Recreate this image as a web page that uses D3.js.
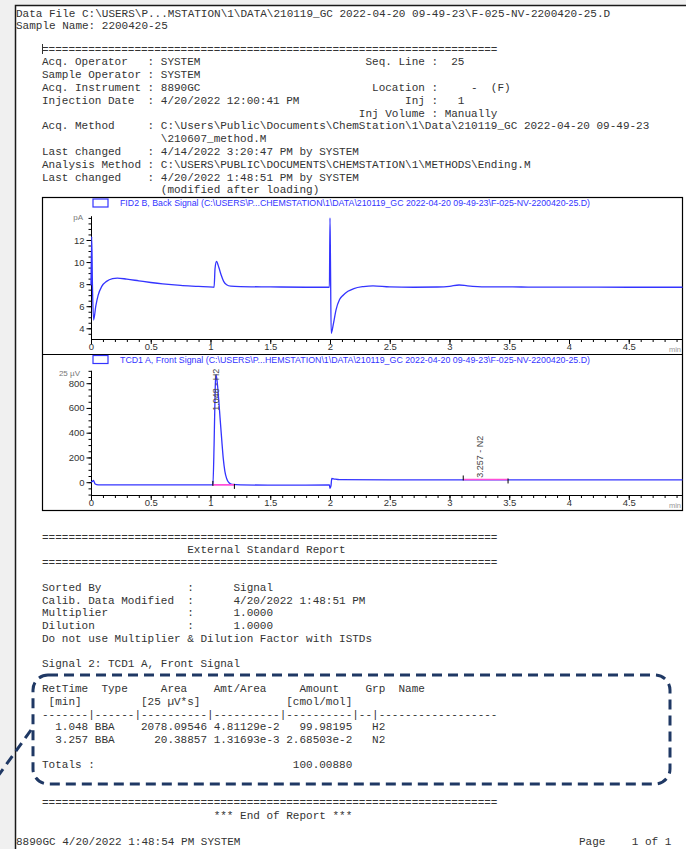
<!DOCTYPE html>
<html><head><meta charset="utf-8">
<script src="https://cdn.jsdelivr.net/npm/d3@7"></script>
<style>body{margin:0;background:#f0f0f0;overflow:hidden}svg{display:block}</style>
</head><body>
<svg id="c" width="686" height="849"></svg>
<script>
// ---------------- DATA ----------------
const fidTime   = [0.000,0.006,0.012,0.022,0.04,0.06,0.09,0.13,0.18,0.22,0.30,0.40,0.50,0.60,0.75,0.90,1.02,1.030,1.038,1.050,1.07,1.09,1.11,1.135,1.17,1.25,1.50,1.80,1.995,2.000,2.004,2.010,2.03,2.05,2.08,2.11,2.15,2.20,2.28,2.36,2.50,2.70,2.90,3.00,3.08,3.15,3.30,3.60,4.00,4.50,4.96];
const fidSignal = [7.9,12.3,8.0,4.75,6.0,7.0,7.8,8.25,8.5,8.55,8.45,8.3,8.15,8.02,7.88,7.8,7.73,7.72,9.4,10.05,9.5,8.8,8.25,7.95,7.82,7.78,7.75,7.72,7.72,14.0,10.0,3.55,4.5,5.65,6.6,7.0,7.35,7.6,7.78,7.85,7.75,7.72,7.74,7.8,7.92,7.85,7.76,7.74,7.73,7.72,7.72];

const tcdTime   = [0.000,0.010,0.020,0.035,0.06,0.50,1.00,1.020,1.030,1.040,1.046,1.055,1.070,1.080,1.095,1.107,1.120,1.135,1.155,1.18,1.25,1.60,1.995,2.000,2.008,2.015,2.04,2.08,2.50,3.00,4.00,4.96];
const tcdSignal = [0,5,15,-15,-22,-22,-22,-20,300,780,870,820,650,520,330,190,90,30,-5,-18,-22,-24,-22,-50,-30,30,25,20,19,19,19,19];

const xTickValues   = [0,0.5,1,1.5,2,2.5,3,3.5,4,4.5];
const fidTickValues = [4,6,8,10,12];
const tcdTickValues = [0,200,400,600,800];

const peakRT    = [1.048, 3.257];
const peakName  = ["H2", "N2"];
const peakStart = [1.02, 3.115];
const peakEnd   = [1.20, 3.49];
const peakBase  = [-22, 22];
const labelBase = [578, 35];

const fidLegend = "FID2 B, Back Signal (C:\\USERS\\P...CHEMSTATION\\1\\DATA\\210119_GC 2022-04-20 09-49-23\\F-025-NV-2200420-25.D)";
const tcdLegend = "TCD1 A, Front Signal (C:\\USERS\\P...HEMSTATION\\1\\DATA\\210119_GC 2022-04-20 09-49-23\\F-025-NV-2200420-25.D)";

const EQ = "=====================================================================";
const topLines = [
  "Data File C:\\USERS\\P...MSTATION\\1\\DATA\\210119_GC 2022-04-20 09-49-23\\F-025-NV-2200420-25.D",
  "Sample Name: 2200420-25"
];
const headerLines = [
  EQ,
  "Acq. Operator   : SYSTEM                         Seq. Line :  25",
  "Sample Operator : SYSTEM",
  "Acq. Instrument : 8890GC                          Location :     -  (F)",
  "Injection Date  : 4/20/2022 12:00:41 PM                Inj :   1",
  "                                                Inj Volume : Manually",
  "Acq. Method     : C:\\Users\\Public\\Documents\\ChemStation\\1\\Data\\210119_GC 2022-04-20 09-49-23",
  "                  \\210607_method.M",
  "Last changed    : 4/14/2022 3:20:47 PM by SYSTEM",
  "Analysis Method : C:\\USERS\\PUBLIC\\DOCUMENTS\\CHEMSTATION\\1\\METHODS\\Ending.M",
  "Last changed    : 4/20/2022 1:48:51 PM by SYSTEM",
  "                  (modified after loading)"
];
const reportLines = [
  EQ,
  "                      External Standard Report",
  EQ,
  "",
  "Sorted By             :      Signal",
  "Calib. Data Modified  :      4/20/2022 1:48:51 PM",
  "Multiplier            :      1.0000",
  "Dilution              :      1.0000",
  "Do not use Multiplier & Dilution Factor with ISTDs",
  "",
  "Signal 2: TCD1 A, Front Signal",
  "",
  "RetTime  Type     Area    Amt/Area     Amount    Grp  Name",
  " [min]         [25 \u00b5V*s]             [cmol/mol]",
  "-------|------|----------|----------|----------|--|------------------",
  "  1.048 BBA    2078.09546 4.81129e-2   99.98195   H2",
  "  3.257 BBA      20.38857 1.31693e-3 2.68503e-2   N2",
  "",
  "Totals :                              100.00880",
  "",
  "",
  EQ,
  "                          *** End of Report ***"
];
const footerLeft  = "8890GC 4/20/2022 1:48:54 PM SYSTEM";
const footerRight = "Page    1 of 1";

// ---------------- DRAW ----------------
const svg = d3.select("#c");
svg.append("rect").attr("width",686).attr("height",849).attr("fill","#f0f0f0");
svg.append("rect").attr("x",15).attr("y",5).attr("width",671).attr("height",844).attr("fill","#fff");
svg.append("path").attr("d","M15.5,849V5.5H686").attr("fill","none").attr("stroke","#1a1a1a").attr("stroke-width",1.5);

function mono(lines, x, y0, lh){
  svg.append("g").selectAll("text").data(lines).join("text")
    .attr("x",x).attr("y",(d,i)=>y0+i*lh)
    .attr("font-family","'Liberation Mono', monospace").attr("font-size","11px")
    .attr("fill","#333").style("white-space","pre").text(d=>d);
}
mono(topLines, 16, 16.5, 12.8);
mono(headerLines, 42, 52.5, 12.8);
mono(reportLines, 42, 540.5, 12.65);
mono([footerLeft], 16, 844.5, 0);
mono([footerRight], 579, 844.5, 0);
svg.append("line").attr("x1",42.5).attr("x2",42.5).attr("y1",44).attr("y2",54).attr("stroke","#333");

// chart frame
const FX0=42.5, FX1=682.5, FY0=197.5, FY1=510.5, FMID=354.5;
svg.append("rect").attr("x",FX0).attr("y",FY0).attr("width",FX1-FX0).attr("height",FY1-FY0)
  .attr("fill","none").attr("stroke","#000").attr("stroke-width",1.2);
svg.append("line").attr("x1",FX0).attr("x2",FX1).attr("y1",FMID).attr("y2",FMID).attr("stroke","#000").attr("stroke-width",1.2);

const x = d3.scaleLinear().domain([0,4.954]).range([91,683]);
const BLUE = "#3434ff";

const defs = svg.append("defs");
defs.append("clipPath").attr("id","clipAll").append("rect").attr("x",FX0).attr("y",FY0).attr("width",FX1-FX0).attr("height",FY1-FY0);

function panel(opts){
  const g = svg.append("g").attr("clip-path","url(#clipAll)");
  const y = opts.y;
  const axY = opts.axisY;
  const minor = d3.range(0,49.6,1).map(v=>v/10);
  const gx = g.append("g").attr("transform",`translate(0,${axY})`);
  gx.call(d3.axisBottom(x).tickValues(minor).tickSize(3).tickSizeOuter(0).tickFormat(""));
  const gx2 = g.append("g").attr("transform",`translate(0,${axY})`);
  gx2.call(d3.axisBottom(x).tickValues(xTickValues).tickSize(5).tickSizeOuter(0).tickFormat(d3.format("")));
  gx2.select(".domain").remove();
  [gx,gx2].forEach(a=>{a.selectAll("line").attr("stroke","#000");a.select(".domain").attr("stroke","#000");});
  gx2.selectAll("text").attr("font-family","'Liberation Sans', Arial, sans-serif").attr("font-size","9.5px").attr("fill","#333").attr("dy","0.6em").attr("y",5);
  g.append("text").attr("x",681).attr("y",axY+13).attr("text-anchor","end").attr("font-family","'Liberation Sans', Arial, sans-serif").attr("font-size","7.5px").attr("fill","#999").text("min");
  const gy = g.append("g").attr("transform","translate(91,0)");
  gy.call(d3.axisLeft(y).tickValues(opts.minor).tickSize(2.5).tickSizeOuter(0).tickFormat(""));
  const gy2 = g.append("g").attr("transform","translate(91,0)");
  gy2.call(d3.axisLeft(y).tickValues(opts.ticks).tickSize(4.5).tickSizeOuter(0).tickFormat(d3.format("")));
  gy2.select(".domain").remove();
  [gy,gy2].forEach(a=>{a.selectAll("line").attr("stroke","#000");a.select(".domain").attr("stroke","#000");});
  gy2.selectAll("text").attr("font-family","'Liberation Sans', Arial, sans-serif").attr("font-size","9.5px").attr("fill","#333").attr("x",-6.5);
  g.append("text").attr("x",opts.unitX).attr("y",opts.unitY).attr("text-anchor","end")
    .attr("font-family","'Liberation Sans', Arial, sans-serif").attr("font-size","8px").attr("fill","#777").text(opts.unit);
  g.append("rect").attr("x",93).attr("y",opts.legY).attr("width",15).attr("height",8).attr("fill","none").attr("stroke",BLUE).attr("stroke-width",1.2);
  g.append("text").attr("x",120).attr("y",opts.legY+7).attr("textLength",470).attr("lengthAdjust","spacingAndGlyphs")
    .attr("font-family","'Liberation Sans', Arial, sans-serif").attr("font-size","9px").attr("fill",BLUE).text(opts.legend);
  const pts = opts.t.map((t,i)=>[t,opts.v[i]]);
  g.append("path").datum(pts).attr("fill","none").attr("stroke",BLUE).attr("stroke-width",1.3).attr("stroke-linejoin","round")
    .attr("d",d3.line().x(d=>x(d[0])).y(d=>y(d[1])).curve(d3.curveMonotoneX));
  return g;
}

const yF = d3.scaleLinear().domain([3.03,14.2]).range([339,215.7]);
panel({y:yF, axisY:339, ticks:fidTickValues, minor:d3.range(7,29).map(v=>v/2), unit:"pA", unitX:83, unitY:220,
  legY:199, legend:fidLegend, t:fidTime, v:fidSignal});

const yT = d3.scaleLinear().domain([-103.5,905]).range([495,370.2]);
const g2 = panel({y:yT, axisY:495, ticks:tcdTickValues, minor:d3.range(-2,19).map(v=>v*50), unit:"25 \u00b5V", unitX:80, unitY:376,
  legY:355.5, legend:tcdLegend, t:tcdTime, v:tcdSignal});

peakRT.forEach((rt,i)=>{
  const yb = yT(peakBase[i]);
  g2.append("line").attr("x1",x(peakStart[i])).attr("x2",x(peakEnd[i])).attr("y1",yb).attr("y2",yb)
    .attr("stroke","#ff4fd8").attr("stroke-width",1.6);
  g2.append("line").attr("x1",x(peakStart[i])).attr("x2",x(peakStart[i])).attr("y1",yb-4).attr("y2",yb+1).attr("stroke","#000");
  g2.append("line").attr("x1",x(peakEnd[i])).attr("x2",x(peakEnd[i])).attr("y1",yb-1).attr("y2",yb+4).attr("stroke","#000");
  g2.append("text").attr("transform",`translate(${x(rt)},${yT(labelBase[i])}) rotate(-90)`).attr("dy","0.35em")
    .attr("font-family","'Liberation Sans', Arial, sans-serif").attr("font-size","9px").attr("fill","#444")
    .text(`${rt.toFixed(3)} - ${peakName[i]}`);
});

const NAVY = "#1f3864";
svg.append("rect").attr("x",33).attr("y",675).attr("width",637).attr("height",109).attr("rx",15)
  .attr("fill","none").attr("stroke",NAVY).attr("stroke-width",3).attr("stroke-dasharray","10,6");
svg.append("line").attr("x1",31).attr("y1",730).attr("x2",-2).attr("y2",776)
  .attr("stroke",NAVY).attr("stroke-width",3).attr("stroke-dasharray","10,6");
</script>
</body></html>
